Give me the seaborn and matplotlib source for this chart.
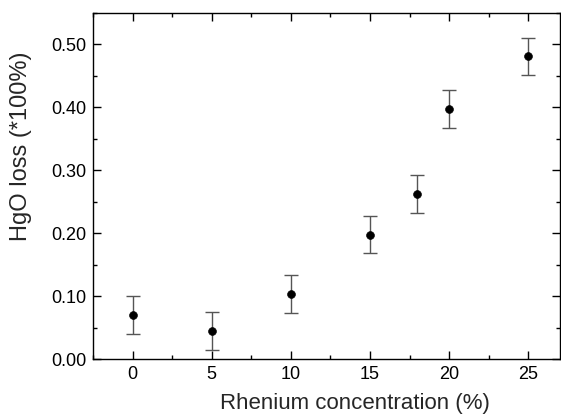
import numpy as np
import pandas as pd
import seaborn as sns
import matplotlib.pyplot as plt
from matplotlib.ticker import MultipleLocator

concentration = [0, 5, 10, 15, 18, 20, 25]
hgo_loss = [0.070, 0.045, 0.103, 0.198, 0.262, 0.397, 0.481]
loss_err = [0.030, 0.030, 0.030, 0.030, 0.030, 0.030, 0.030]

df = pd.DataFrame({'conc': concentration, 'loss': hgo_loss, 'err': loss_err})

sns.set_style('ticks')
plt.rcParams['font.family'] = ['Liberation Sans', 'DejaVu Sans']

fig, ax = plt.subplots(figsize=(5.61, 4.2), dpi=100)
fig.subplots_adjust(left=0.166, right=0.998, top=0.969, bottom=0.145)

ax.errorbar(df['conc'], df['loss'], yerr=df['err'], fmt='none',
            ecolor='#555555', elinewidth=1.0, capsize=5.2, capthick=1.0, zorder=2)
sns.scatterplot(data=df, x='conc', y='loss', color='black', s=32,
                edgecolor='black', ax=ax, zorder=3)

ax.set_xlim(-2.5, 27)
ax.set_ylim(0, 0.55)
ax.xaxis.set_major_locator(MultipleLocator(5))
ax.xaxis.set_minor_locator(MultipleLocator(2.5))
ax.yaxis.set_major_locator(MultipleLocator(0.1))
ax.yaxis.set_minor_locator(MultipleLocator(0.05))
ax.yaxis.set_major_formatter(plt.FormatStrFormatter('%.2f'))

ax.tick_params(which='both', direction='in', top=True, right=True,
               colors='black', width=1.0)
ax.tick_params(which='major', length=6, labelsize=13, pad=5)
ax.tick_params(which='minor', length=3)
for s in ax.spines.values():
    s.set_linewidth(1.0)
    s.set_color('black')

ax.set_xlabel('Rhenium concentration (%)', fontsize=16)
ax.set_ylabel('HgO loss (*100%)', fontsize=17)
# labels sit off-centre in the original (Origin-style)
ax.xaxis.set_label_coords(0.56, -0.098)
ax.yaxis.set_label_coords(-0.131, 0.614)

fig.savefig('out.png', dpi=100)
